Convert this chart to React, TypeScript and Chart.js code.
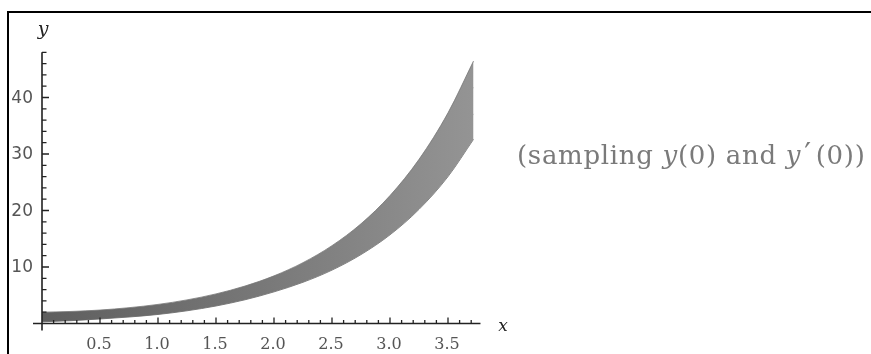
import React, { useEffect, useRef } from "react";
import { Chart, registerables } from "chart.js";

Chart.register(...registerables);

const xs = [0, 0.25, 0.5, 0.75, 1, 1.25, 1.5, 1.75, 2, 2.25, 2.5, 2.75, 3, 3.25, 3.5, 3.72];
const curveA = [2.0, 2.13, 2.38, 2.8, 3.38, 4.18, 5.24, 6.63, 8.43, 10.77, 13.78, 17.65, 22.64, 29.05, 37.28, 46.45];
const curveC1 = [1.45, 1.62, 1.9, 2.3, 2.85, 3.6, 4.58, 5.86, 7.5, 9.62, 12.35, 15.85, 20.35, 26.15, 33.6, 41.85];
const curveC2 = [0.85, 1.05, 1.35, 1.75, 2.25, 2.95, 3.85, 5.0, 6.5, 8.4, 10.85, 14.0, 18.0, 23.1, 29.7, 37.1];
const curveB = [0.3, 0.5, 0.8, 1.15, 1.6, 2.25, 3.1, 4.2, 5.6, 7.3, 9.45, 12.2, 15.7, 20.2, 26.0, 32.6];

const xTickValues = [0.5, 1.0, 1.5, 2.0, 2.5, 3.0, 3.5];
const xTickLabels = ["0.5", "1.0", "1.5", "2.0", "2.5", "3.0", "3.5"];
const yTickValues = [10, 20, 30, 40];
const yTickLabels = ["10", "20", "30", "40"];
const X_MAX = 3.78;
const Y_MAX = 48;

const toPts = (ys: number[]) => xs.map((x, i) => ({ x, y: ys[i] }));

const decor = {
  id: "decor",
  afterDatasetsDraw(chart: any) {
    const { ctx } = chart;
    const sx = chart.scales.x;
    const sy = chart.scales.y;
    const x0 = sx.getPixelForValue(0);
    const y0 = sy.getPixelForValue(0);
    ctx.save();
    // frame
    ctx.strokeStyle = "#000";
    ctx.lineWidth = 2;
    ctx.beginPath();
    ctx.moveTo(8, 400);
    ctx.lineTo(8, 12);
    ctx.lineTo(900, 12);
    ctx.stroke();

    // axes
    ctx.strokeStyle = "#222";
    ctx.lineWidth = 1.6;
    ctx.beginPath();
    ctx.moveTo(33, y0);
    ctx.lineTo(sx.getPixelForValue(X_MAX), y0);
    ctx.moveTo(x0, sy.getPixelForValue(Y_MAX));
    ctx.lineTo(x0, y0 + 7);
    ctx.stroke();

    // x ticks
    ctx.lineWidth = 1.3;
    ctx.beginPath();
    for (let k = 1; k <= 37; k++) {
      const v = k / 10;
      const px = sx.getPixelForValue(v);
      const major = k % 5 === 0;
      ctx.moveTo(px, y0);
      ctx.lineTo(px, y0 - (major ? 6 : 3.5));
    }
    // y ticks
    for (let k = 1; k <= 24; k++) {
      const v = k * 2;
      const py = sy.getPixelForValue(v);
      const major = v % 10 === 0;
      ctx.moveTo(x0, py);
      ctx.lineTo(x0 + (major ? 7 : 4.5), py);
    }
    ctx.stroke();

    // tick labels
    ctx.fillStyle = "#555";
    ctx.font = "16px 'DejaVu Serif'";
    ctx.textAlign = "center";
    ctx.textBaseline = "middle";
    xTickValues.forEach((v, i) => {
      ctx.fillText(xTickLabels[i], sx.getPixelForValue(v) - 1, 345);
    });
    ctx.font = "17px 'DejaVu Sans'";
    ctx.textAlign = "right";
    yTickValues.forEach((v, i) => {
      ctx.fillText(yTickLabels[i], 33, sy.getPixelForValue(v) + 1);
    });

    // axis labels
    ctx.fillStyle = "#222";
    ctx.textAlign = "center";
    ctx.font = "italic 19px 'DejaVu Serif'";
    ctx.fillText("y", 43, 30);
    ctx.font = "italic 17px 'DejaVu Serif'";
    ctx.fillText("x", 503, 327);

    // caption
    ctx.fillStyle = "#7a7a7a";
    ctx.textAlign = "left";
    ctx.textBaseline = "alphabetic";
    try { (ctx as any).letterSpacing = "0.7px"; } catch (e) {}
    let cx = 517;
    const cy = 164;
    const seg = (t: string, italic = false, size = 26) => {
      ctx.font = (italic ? "italic " : "") + size + "px 'DejaVu Serif'";
      ctx.fillText(t, cx, cy);
      cx += ctx.measureText(t).width;
    };
    seg("(sampling ");
    seg("y", true);
    seg("(0) and ");
    seg("y", true);
    cx += 3;
    seg("\u2032", false, 30);
    cx += 4;
    seg("(0))");
    ctx.restore();
  },
};

export default function App() {
  const ref = useRef<HTMLCanvasElement | null>(null);
  useEffect(() => {
    if (!ref.current) return;
    const bandFill = (c: any) => {
      const chart = c.chart;
      const area = chart.chartArea;
      if (!area) return "#777";
      const g = chart.ctx.createLinearGradient(area.left, 0, area.right, 0);
      g.addColorStop(0, "#5e5e5e");
      g.addColorStop(0.5, "#787878");
      g.addColorStop(1, "#959595");
      return g;
    };
    const line = (ys: number[], color: string, width = 1, fill: any = false, bg: any = "transparent") => ({
      data: toPts(ys),
      borderColor: color,
      borderWidth: width,
      backgroundColor: bg,
      fill,
      pointRadius: 0,
      cubicInterpolationMode: "monotone" as const,
    });
    const chart = new Chart(ref.current, {
      type: "line",
      data: {
        datasets: [
          line(curveA, "rgba(120,120,120,0.8)", 1, 3, bandFill),
          line(curveC1, "rgba(170,170,170,0.5)"),
          line(curveC2, "rgba(160,160,160,0.5)"),
          line(curveB, "rgba(95,95,95,0.8)"),
        ],
      },
      options: {
        animation: false,
        responsive: false,
        events: [],
        layout: { padding: { left: 42, right: 871 - 42 - 116 * X_MAX, top: 323.5 - 5.65 * Y_MAX, bottom: 354 - 323.5 } },
        plugins: { legend: { display: false }, tooltip: { enabled: false } },
        scales: {
          x: { type: "linear", min: 0, max: X_MAX, display: false },
          y: { type: "linear", min: 0, max: Y_MAX, display: false },
        },
      },
      plugins: [decor],
    });
    return () => chart.destroy();
  }, []);
  return (
    <div style={{ position: "absolute", left: 0, top: 0, width: 871, height: 354, background: "#fff" }}>
      <canvas ref={ref} width={871} height={354} style={{ width: 871, height: 354, display: "block" }} />
    </div>
  );
}
